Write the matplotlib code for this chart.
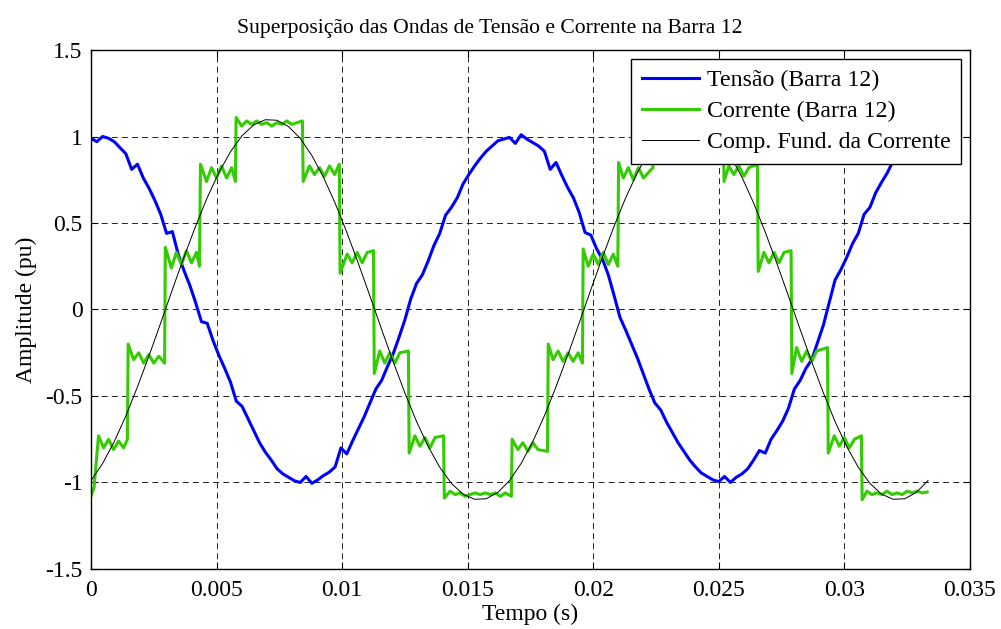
import matplotlib
matplotlib.use("Agg")
import matplotlib.pyplot as plt
import numpy as np

plt.rcParams['font.family'] = ['Liberation Serif', 'DejaVu Serif']
plt.rcParams['axes.unicode_minus'] = False
plt.rcParams['lines.scale_dashes'] = False

# Tensão (Barra 12): amostras a cada 1/(60*72) s
tensao = [
    0.99, 0.97, 1.00, 0.99, 0.97, 0.935, 0.90, 0.81, 0.84, 0.76,
    0.70, 0.63, 0.55, 0.44, 0.45, 0.32, 0.225, 0.14, 0.04, -0.07,
    -0.08, -0.18, -0.265, -0.34, -0.42, -0.53, -0.56, -0.63, -0.70, -0.77,
    -0.825, -0.87, -0.92, -0.95, -0.97, -0.99, -1.0, -0.965, -1.005, -0.985,
    -0.96, -0.94, -0.91, -0.80, -0.835, -0.76, -0.69, -0.62, -0.54, -0.46,
    -0.41, -0.33, -0.255, -0.16, -0.06, 0.06, 0.15, 0.20, 0.28, 0.37,
    0.44, 0.545, 0.59, 0.645, 0.725, 0.78, 0.83, 0.875, 0.915, 0.945,
    0.975, 0.985, 0.995, 0.96, 1.01, 0.985, 0.965, 0.945, 0.915, 0.81,
    0.85, 0.775, 0.705, 0.645, 0.56, 0.445, 0.43, 0.35, 0.29, 0.20,
    0.08, -0.045, -0.12, -0.20, -0.28, -0.37, -0.46, -0.54, -0.58, -0.65,
    -0.71, -0.77, -0.82, -0.87, -0.91, -0.945, -0.965, -0.985, -0.995, -0.965,
    -1.0, -0.97, -0.95, -0.92, -0.87, -0.815, -0.83, -0.75, -0.70, -0.645,
    -0.57, -0.46, -0.41, -0.34, -0.29, -0.19, -0.09, 0.04, 0.17, 0.23,
    0.30, 0.38, 0.44, 0.55, 0.59, 0.675, 0.735, 0.79, 0.86, 0.91,
    0.945, 0.97, 0.985, 0.995, 1.0,
]
t_tensao = np.linspace(0, 2 / 60, len(tensao))

# Corrente (Barra 12): degraus com oscilação
t_corrente = [
    0.0, 0.00012, 0.0003, 0.0005, 0.0007, 0.0009, 0.0011, 0.0013, 0.00145,
    0.00148, 0.0017, 0.0019, 0.0021, 0.0023, 0.0025, 0.0027, 0.00293,
    0.00296, 0.0032, 0.0034, 0.0036, 0.0038, 0.0040, 0.0042, 0.00432,
    0.00436, 0.0046, 0.0048, 0.0050, 0.0052, 0.0054, 0.0056, 0.00575,
    0.00578, 0.0060, 0.0062, 0.0064, 0.0066, 0.0068, 0.0070, 0.0072, 0.0074,
    0.0076, 0.0078, 0.0080, 0.0082, 0.00842,
    0.00845, 0.0087, 0.0089, 0.0091, 0.0093, 0.0095, 0.0097, 0.00989,
    0.00992, 0.0102, 0.0104, 0.0106, 0.0108, 0.0110, 0.01125,
    0.01128, 0.0115, 0.0117, 0.0119, 0.0121, 0.0123, 0.01264,
    0.01267, 0.0129, 0.0131, 0.0133, 0.0135, 0.0137, 0.01404,
    0.01407, 0.0143, 0.0145, 0.0147, 0.0149, 0.0151, 0.0153, 0.0155, 0.0157,
    0.0159, 0.0161, 0.0163, 0.0165, 0.01674,
    0.01677, 0.0170, 0.0172, 0.0174, 0.0176, 0.0178, 0.01818,
    0.01821, 0.0184, 0.0186, 0.0188, 0.0190, 0.0192, 0.0194, 0.01957,
    0.0196, 0.0198, 0.0200, 0.0202, 0.0204, 0.0206, 0.0208, 0.02098,
    0.02101, 0.0212, 0.0214, 0.0216, 0.0218, 0.0220, 0.02238,
    0.02241, 0.0226, 0.0228, 0.0230, 0.0232, 0.0234, 0.0236, 0.0238, 0.0240,
    0.0242, 0.0244, 0.0246, 0.0248, 0.02518,
    0.02521, 0.0254, 0.0256, 0.0258, 0.0260, 0.0262, 0.02654,
    0.02657, 0.0268, 0.0270, 0.0272, 0.0274, 0.0276, 0.02788,
    0.02791, 0.0281, 0.0283, 0.0285, 0.0287, 0.0289, 0.02933,
    0.02936, 0.0296, 0.0298, 0.0300, 0.0302, 0.0304, 0.03068,
    0.03071, 0.0309, 0.0311, 0.0313, 0.0315, 0.0317, 0.0319, 0.0321, 0.0323,
    0.0325, 0.0327, 0.0329, 0.0331, 0.0333,
]
corrente = [
    -1.08, -1.03, -0.73, -0.80, -0.75, -0.81, -0.76, -0.80, -0.75,
    -0.20, -0.29, -0.25, -0.31, -0.26, -0.31, -0.27, -0.31,
    0.36, 0.24, 0.33, 0.26, 0.34, 0.27, 0.33, 0.25,
    0.84, 0.74, 0.82, 0.76, 0.83, 0.76, 0.82, 0.74,
    1.11, 1.06, 1.09, 1.07, 1.09, 1.07, 1.08, 1.06, 1.08,
    1.07, 1.09, 1.07, 1.08, 1.09,
    0.74, 0.83, 0.78, 0.82, 0.77, 0.83, 0.78, 0.84,
    0.21, 0.32, 0.27, 0.33, 0.27, 0.33, 0.34,
    -0.37, -0.24, -0.31, -0.25, -0.31, -0.25, -0.24,
    -0.83, -0.73, -0.79, -0.74, -0.80, -0.74, -0.73,
    -1.09, -1.05, -1.07, -1.06, -1.08, -1.07, -1.06, -1.07, -1.06,
    -1.07, -1.06, -1.08, -1.06, -1.08,
    -0.75, -0.81, -0.77, -0.82, -0.77, -0.81, -0.82,
    -0.20, -0.29, -0.24, -0.30, -0.25, -0.30, -0.25, -0.31,
    0.35, 0.25, 0.32, 0.26, 0.33, 0.26, 0.32, 0.25,
    0.85, 0.76, 0.82, 0.75, 0.82, 0.76, 0.82,
    1.11, 1.06, 1.09, 1.07, 1.09, 1.07, 1.08, 1.06, 1.08,
    1.07, 1.09, 1.07, 1.08, 1.09,
    0.74, 0.83, 0.78, 0.83, 0.77, 0.82, 0.84,
    0.22, 0.33, 0.27, 0.33, 0.27, 0.33, 0.34,
    -0.37, -0.22, -0.30, -0.24, -0.30, -0.24, -0.22,
    -0.83, -0.73, -0.79, -0.74, -0.80, -0.75, -0.73,
    -1.10, -1.05, -1.07, -1.06, -1.07, -1.05, -1.07, -1.06, -1.07,
    -1.05, -1.06, -1.05, -1.06, -1.055,
]

# Componente fundamental da corrente, amostras a cada 1/(60*36) s
fundamental = [
    -0.989, -0.890, -0.764, -0.615, -0.447, -0.266, -0.077, 0.115, 0.303, 0.482,
    0.647, 0.791, 0.912, 1.005, 1.067, 1.097, 1.094, 1.057, 0.989, 0.890,
    0.764, 0.615, 0.447, 0.266, 0.077, -0.115, -0.303, -0.482, -0.647, -0.791,
    -0.912, -1.005, -1.067, -1.097, -1.094, -1.057, -0.989, -0.890, -0.764, -0.615,
    -0.447, -0.266, -0.077, 0.115, 0.303, 0.482, 0.647, 0.791, 0.912, 1.005,
    1.067, 1.097, 1.094, 1.057, 0.989, 0.890, 0.764, 0.615, 0.447, 0.266,
    0.077, -0.115, -0.303, -0.482, -0.647, -0.791, -0.912, -1.005, -1.067, -1.097,
    -1.094, -1.057, -0.989,
]
t_fundamental = np.linspace(0, 2 / 60, len(fundamental))

xticks = [0, 0.005, 0.01, 0.015, 0.02, 0.025, 0.03, 0.035]
xtick_labels = ['0', '0.005', '0.01', '0.015', '0.02', '0.025', '0.03', '0.035']
yticks = [-1.5, -1, -0.5, 0, 0.5, 1, 1.5]
ytick_labels = ['-1.5', '-1', '-0.5', '0', '0.5', '1', '1.5']

fig = plt.figure(figsize=(10.01, 6.29), dpi=100)
ax = fig.add_axes([0.0909, 0.0954, 0.878, 0.8251])

ax.plot(t_tensao, tensao, color='#0000ff', linewidth=2.2, label='Tensão (Barra 12)')
ax.plot(t_corrente, corrente, color='#33cc00', linewidth=2.2, label='Corrente (Barra 12)')
ax.plot(t_fundamental, fundamental, color='black', linewidth=0.7, label='Comp. Fund. da Corrente')

ax.set_xlim(0, 0.035)
ax.set_ylim(-1.5, 1.5)
ax.set_xticks(xticks)
ax.set_xticklabels(xtick_labels)
ax.set_yticks(yticks)
ax.set_yticklabels(ytick_labels)
ax.tick_params(direction='in', length=5, width=0.8, labelsize=17,
               top=True, right=True)
ax.tick_params(axis='x', pad=8)
ax.tick_params(axis='y', pad=6)
ax.grid(True, color='black', linestyle=(0, (4.3, 3.0)), linewidth=0.6)
for s in ax.spines.values():
    s.set_linewidth(1.0)

ax.set_title('Superposição das Ondas de Tensão e Corrente na Barra 12',
             fontsize=15.6, pad=12, x=0.454)
ax.set_xlabel('Tempo (s)', fontsize=17, labelpad=2)
ax.set_ylabel('Amplitude (pu)', fontsize=17, labelpad=6)

leg = ax.legend(loc='upper right', fontsize=17.2, frameon=True, fancybox=False,
                framealpha=1, edgecolor='black', handlelength=2.4,
                handletextpad=0.3, borderaxespad=0.37, labelspacing=0.38,
                borderpad=0.45)
leg.get_frame().set_linewidth(1.0)

fig.savefig('out.png', dpi=100)
